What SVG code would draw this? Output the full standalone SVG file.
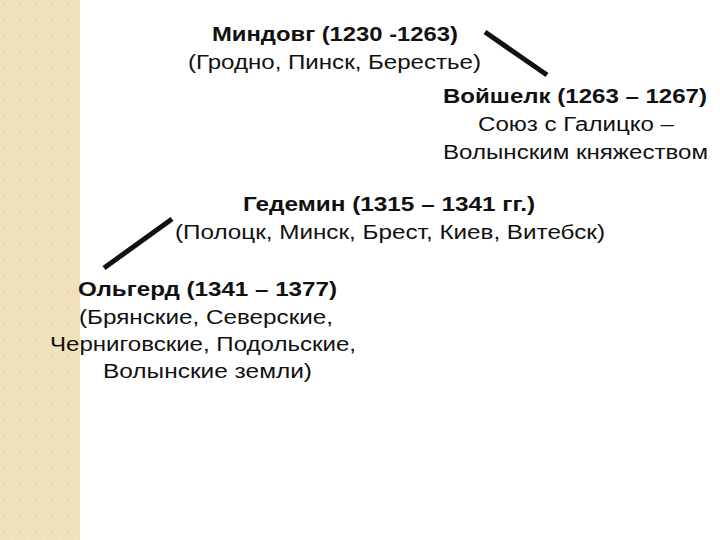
<svg xmlns="http://www.w3.org/2000/svg" width="720" height="540" viewBox="0 0 720 540">
<defs>
<pattern id="dots" x="0" y="0" width="16" height="16" patternUnits="userSpaceOnUse">
<rect width="16" height="16" fill="#EFE1BA"/>
<circle cx="4" cy="4" r="1" fill="#E6D3A6"/>
<circle cx="12" cy="12" r="1" fill="#F3E8C8"/>
</pattern>
<style>
text{font-family:"Liberation Sans",Arial,sans-serif;font-size:20px;fill:#111;text-anchor:middle}
.b{font-weight:bold}
.ln{stroke:#111;stroke-width:5;stroke-linecap:butt;fill:none}
</style>
</defs>
<rect width="720" height="540" fill="#fff"/>
<rect x="0" y="0" width="80" height="540" fill="url(#dots)"/>
<g id="mindovg">
<text class="b" x="335" y="41" textLength="246" lengthAdjust="spacingAndGlyphs">Миндовг (1230 -1263)</text>
<text x="334.5" y="69" textLength="293" lengthAdjust="spacingAndGlyphs">(Гродно, Пинск, Берестье)</text>
</g>
<g id="voishelk">
<text class="b" x="575" y="103" textLength="264" lengthAdjust="spacingAndGlyphs">Войшелк (1263 – 1267)</text>
<text x="576" y="131" textLength="196" lengthAdjust="spacingAndGlyphs">Союз с Галицко –</text>
<text x="575.5" y="159" textLength="265" lengthAdjust="spacingAndGlyphs">Волынским княжеством</text>
</g>
<g id="gedemin">
<text class="b" x="389" y="211" textLength="292" lengthAdjust="spacingAndGlyphs">Гедемин (1315 – 1341 гг.)</text>
<text x="390" y="239" textLength="430" lengthAdjust="spacingAndGlyphs">(Полоцк, Минск, Брест, Киев, Витебск)</text>
</g>
<g id="olgerd">
<text class="b" x="207.5" y="296" textLength="259" lengthAdjust="spacingAndGlyphs">Ольгерд (1341 – 1377)</text>
<text x="206" y="324" textLength="254" lengthAdjust="spacingAndGlyphs">(Брянские, Северские,</text>
<text x="203" y="351" textLength="306" lengthAdjust="spacingAndGlyphs">Черниговские, Подольские,</text>
<text x="207.5" y="378" textLength="209" lengthAdjust="spacingAndGlyphs">Волынские земли)</text>
</g>
<g id="connectors">
<line class="ln" x1="485" y1="32" x2="547" y2="75"/>
<line class="ln" x1="172" y1="219" x2="104" y2="268"/>
</g>
</svg>
